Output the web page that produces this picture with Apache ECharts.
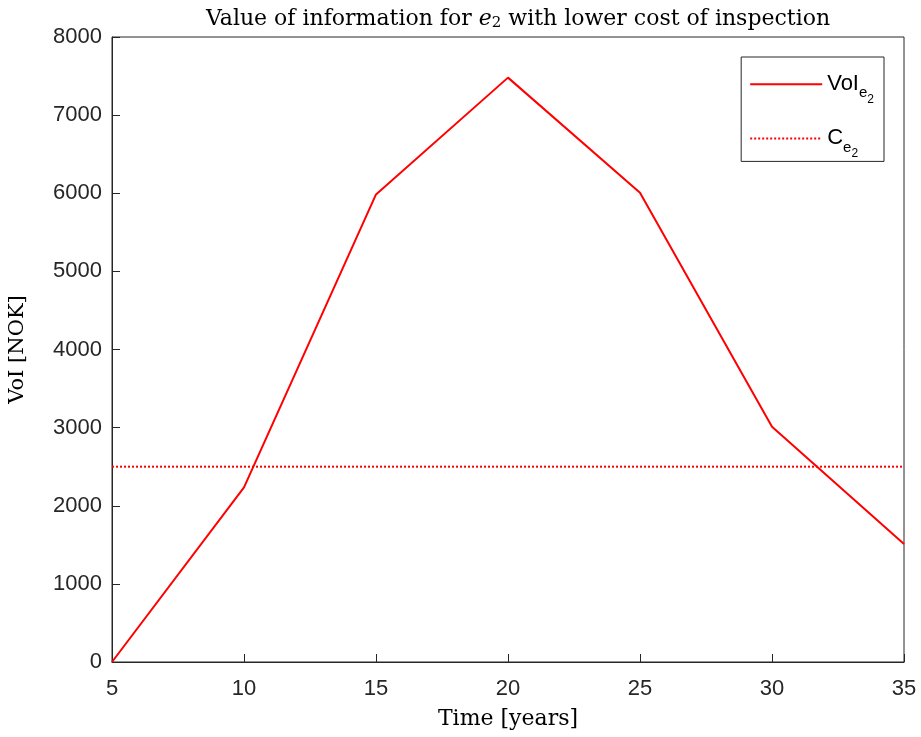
<!DOCTYPE html>
<html>
<head>
<meta charset="utf-8">
<script src="https://cdn.jsdelivr.net/npm/echarts@6/dist/echarts.min.js"></script>
<style>
  html, body { margin: 0; padding: 0; background: #fff; }
  #chart { width: 921px; height: 737px; }
</style>
</head>
<body>
<div id="chart"></div>
<script>
// values
const years = [5, 10, 15, 20, 25, 30, 35]
const voi = [0, 2235, 5985, 7480, 6005, 3010, 1510]
const inspectionCost = 2500
const yTicks = [0, 1000, 2000, 3000, 4000, 5000, 6000, 7000, 8000]

const chart = echarts.init(document.getElementById('chart'))
const axisCol = '#262626'
const sub = { fontFamily: 'Liberation Sans', fontSize: 15, color: '#000', padding: [18, 0, 0, 0] }
const sub2 = { fontFamily: 'Liberation Sans', fontSize: 12, color: '#000', padding: [30, 0, 0, 0] }

chart.setOption({
  animation: false,
  backgroundColor: '#fff',
  title: {
    text: 'Value of information for {it|e}{s|2} with lower cost of inspection',
    left: 513,
    textAlign: 'center',
    top: 2,
    textStyle: {
      fontFamily: 'DejaVu Serif', fontSize: 22, fontWeight: 'normal', color: '#000',
      rich: {
        it: { fontFamily: 'DejaVu Serif', fontStyle: 'italic', fontSize: 22, color: '#000' },
        s: { fontFamily: 'DejaVu Serif', fontSize: 15, color: '#000', padding: [9, 0, 0, 0] },
      },
    },
  },
  grid: { left: 112, right: 17, top: 37, bottom: 75, show: true, borderColor: axisCol, borderWidth: 1, outerBoundsMode: 'none' },
  legend: {
    orient: 'vertical',
    right: 37,
    top: 57,
    width: 144,
    padding: [16, 10, 2, 8],
    itemGap: 22,
    itemWidth: 72,
    itemHeight: 28,
    borderColor: axisCol,
    borderWidth: 1,
    backgroundColor: '#fff',
    itemStyle: { opacity: 0 },
    textStyle: { fontFamily: 'Liberation Sans', fontSize: 22, color: '#000' },
    formatter: name => name === 'VoI' ? 'VoI{a|e}{b|2}' : 'C{a|e}{b|2}',
    data: [
      { name: 'VoI', textStyle: { rich: { a: sub, b: sub2 } } },
      { name: 'C', textStyle: { rich: { a: sub, b: sub2 } } },
    ],
  },
  xAxis: {
    type: 'value',
    min: 5, max: 35, interval: 5,
    name: 'Time [years]',
    nameLocation: 'middle',
    nameGap: 46,
    nameTextStyle: { fontFamily: 'DejaVu Serif', fontSize: 22, color: '#000' },
    axisLine: { lineStyle: { color: axisCol } },
    axisTick: { inside: true, length: 8, lineStyle: { color: axisCol } },
    axisLabel: { fontFamily: 'Liberation Sans', fontSize: 22, color: axisCol, margin: 16 },
    splitLine: { show: false },
  },
  yAxis: {
    type: 'value',
    min: 0, max: 8000, interval: 1000,
    name: 'VoI [NOK]',
    nameLocation: 'middle',
    nameGap: 84,
    nameTextStyle: { fontFamily: 'DejaVu Serif', fontSize: 21, color: '#000' },
    axisLine: { show: true, lineStyle: { color: axisCol } },
    axisTick: { show: true, inside: true, length: 8, lineStyle: { color: axisCol } },
    axisLabel: { fontFamily: 'Liberation Sans', fontSize: 22, color: axisCol, margin: 10,
      formatter: v => yTicks.includes(v) ? String(v) : '' },
    splitLine: { show: false },
  },
  series: [
    {
      name: 'VoI',
      type: 'line',
      data: years.map((y, i) => [y, voi[i]]),
      symbol: 'none',
      lineStyle: { color: '#ff0000', width: 2 },
      itemStyle: { color: '#ff0000' },
    },
    {
      name: 'C',
      type: 'line',
      data: [[years[0], inspectionCost], [years[years.length - 1], inspectionCost]],
      symbol: 'none',
      lineStyle: { color: '#ff0000', width: 2, type: [2, 2] },
      itemStyle: { color: '#ff0000' },
    },
  ],
})
</script>
</body>
</html>
